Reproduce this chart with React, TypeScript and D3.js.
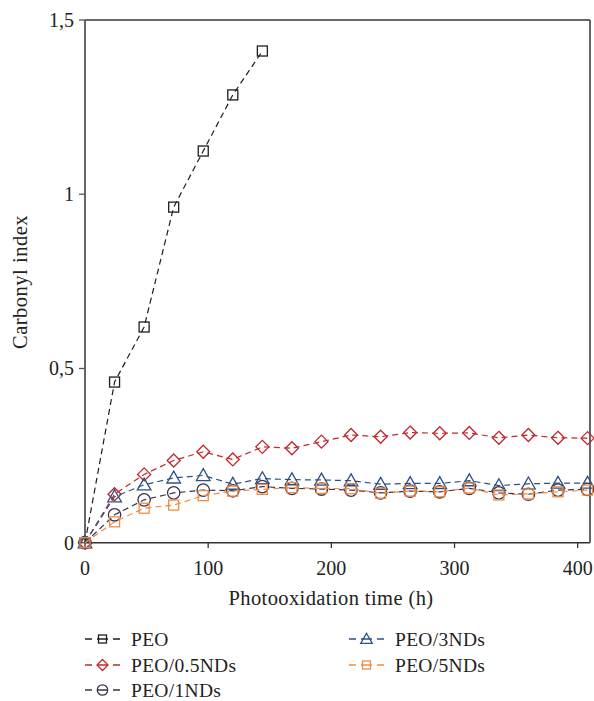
import React from "react";
import * as d3 from "d3";

const times = [0, 24, 48, 72, 96, 120, 144, 168, 192, 216, 240, 264, 288, 312, 336, 360, 384, 408];
const peo = [0, 0.461, 0.619, 0.963, 1.124, 1.285, 1.411];
const peo05 = [0, 0.139, 0.196, 0.236, 0.261, 0.239, 0.275, 0.271, 0.29, 0.309, 0.304, 0.316, 0.314, 0.315, 0.301, 0.309, 0.301, 0.3];
const peo1 = [0, 0.08, 0.123, 0.143, 0.151, 0.149, 0.161, 0.156, 0.154, 0.151, 0.143, 0.148, 0.146, 0.156, 0.143, 0.139, 0.151, 0.153];
const peo3 = [0, 0.132, 0.166, 0.186, 0.193, 0.168, 0.184, 0.181, 0.18, 0.178, 0.168, 0.17, 0.17, 0.178, 0.164, 0.169, 0.171, 0.171];
const peo5 = [0, 0.06, 0.099, 0.108, 0.135, 0.148, 0.153, 0.158, 0.156, 0.155, 0.142, 0.148, 0.146, 0.157, 0.137, 0.14, 0.146, 0.151];
const xTicks = [0, 100, 200, 300, 400];
const yTicks = [0, 0.5, 1, 1.5];
const yTickLabels = ["0", "0,5", "1", "1,5"];

type Sym = "square" | "diamond" | "circle" | "triangle";
const series: { name: string; values: number[]; color: string; sym: Sym }[] = [
  { name: "PEO", values: peo, color: "#1e1e1e", sym: "square" },
  { name: "PEO/0.5NDs", values: peo05, color: "#c1272d", sym: "diamond" },
  { name: "PEO/1NDs", values: peo1, color: "#3b3350", sym: "circle" },
  { name: "PEO/3NDs", values: peo3, color: "#2c4f86", sym: "triangle" },
  { name: "PEO/5NDs", values: peo5, color: "#f08c45", sym: "square" },
];

const FONT = "'Liberation Serif', 'Times New Roman', serif";

function Marker({ x, y, sym, color, s }: { x: number; y: number; sym: Sym; color: string; s: number }) {
  const common = { fill: "none", stroke: color, strokeWidth: 1.3 };
  if (sym === "square") return <rect x={x - s / 2} y={y - s / 2} width={s} height={s} {...common} />;
  if (sym === "circle") return <circle cx={x} cy={y} r={s / 2 + 1.2} {...common} />;
  if (sym === "diamond") {
    const h = s / 2 + 1.5;
    return <path d={`M${x},${y - h}L${x + h},${y}L${x},${y + h}L${x - h},${y}Z`} {...common} />;
  }
  const h = s / 2 + 1.8;
  return <path d={`M${x},${y - h}L${x + h},${y + h * 0.75}L${x - h},${y + h * 0.75}Z`} {...common} />;
}

export default function App() {
  const W = 594, H = 701;
  const x = d3.scaleLinear().domain([0, 410]).range([85, 590]);
  const y = d3.scaleLinear().domain([0, 1.5]).range([542.7, 20]);
  const line = d3.line<number>().x((_, i) => x(times[i])).y((v) => y(v));

  const legendPos = [
    { lx: 85, ly: 639 },
    { lx: 85, ly: 665 },
    { lx: 85, ly: 690 },
    { lx: 349, ly: 639 },
    { lx: 349, ly: 665 },
  ];

  return (
    <svg width={W} height={H} style={{ position: "absolute", left: 0, top: 0, background: "#fff" }} fontFamily={FONT}>
      <line x1={85} x2={590} y1={20} y2={20} stroke="#333" strokeWidth={1.5} />
      <line x1={590} x2={590} y1={20} y2={542.7} stroke="#333" strokeWidth={1.5} />
      <line x1={85} x2={590} y1={542.7} y2={542.7} stroke="#333" strokeWidth={1.5} />
      <line x1={85} x2={85} y1={20} y2={542.7} stroke="#666" strokeWidth={2} />
      {xTicks.map((t) => (
        <g key={t}>
          <line x1={x(t)} x2={x(t)} y1={542.7} y2={548} stroke="#333" strokeWidth={1.3} />
          <text x={x(t)} y={575} textAnchor="middle" fontSize={20} fill="#222">{t}</text>
        </g>
      ))}
      {yTicks.map((t, i) => (
        <g key={t}>
          <line x1={79} x2={85} y1={y(t)} y2={y(t)} stroke="#555" strokeWidth={1.3} />
          <text x={74} y={y(t) + 7} textAnchor="end" fontSize={20} fill="#222">{yTickLabels[i]}</text>
        </g>
      ))}
      <text x={331} y={605} textAnchor="middle" fontSize={20.5} letterSpacing={0.4} fill="#222">Photooxidation time (h)</text>
      <text transform={`translate(27,${282}) rotate(-90)`} textAnchor="middle" fontSize={20.5} letterSpacing={0.5} fill="#222">Carbonyl index</text>

      {series.map((s) => (
        <g key={s.name}>
          <path d={line(s.values) || ""} fill="none" stroke={s.color} strokeWidth={1.2} strokeDasharray="6,4" />
          {s.values.map((v, i) => (
            <Marker key={i} x={x(times[i])} y={y(v)} sym={s.sym} color={s.color} s={10} />
          ))}
        </g>
      ))}

      {series.map((s, i) => {
        const p = legendPos[i];
        return (
          <g key={"lg" + s.name}>
            <line x1={p.lx} x2={p.lx + 35} y1={p.ly} y2={p.ly} stroke={s.color} strokeWidth={1.3} strokeDasharray="7,5,11,5,7" />
            <Marker x={p.lx + 17.5} y={p.ly} sym={s.sym} color={s.color} s={8} />
            <text x={p.lx + 46} y={p.ly + 6.5} fontSize={19.5} letterSpacing={0.3} fill="#222">{s.name}</text>
          </g>
        );
      })}
    </svg>
  );
}
